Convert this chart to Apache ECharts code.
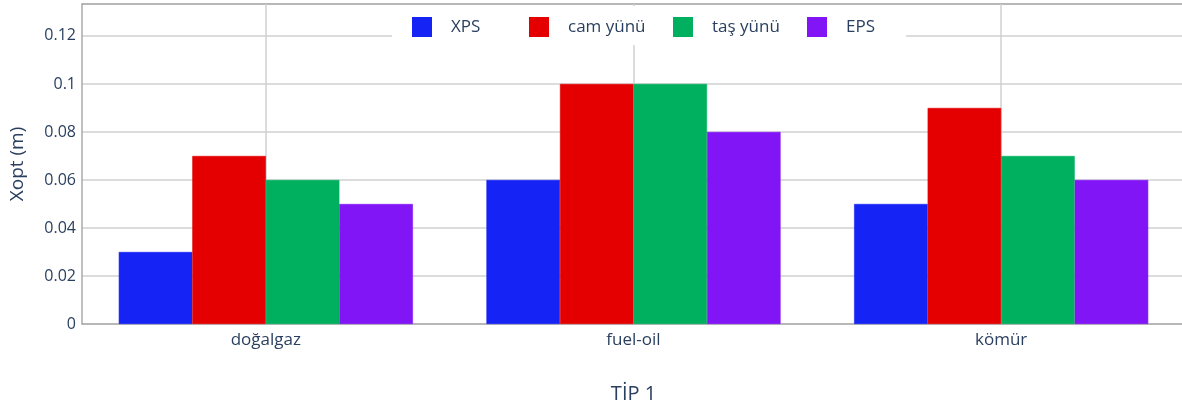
<!DOCTYPE html>
<html><head><meta charset="utf-8">
<script src="https://cdn.jsdelivr.net/npm/echarts@6/dist/echarts.min.js"></script>
<style>html,body{margin:0;padding:0;background:#fff;overflow:hidden}#c{width:1182px;height:409px}</style>
</head><body><div id="c"></div>
<script>
const categories = ['doğalgaz', 'fuel-oil', 'kömür'];
const seriesNames = ['XPS', 'cam yünü', 'taş yünü', 'EPS'];
const xps = [0.03, 0.06, 0.05];
const camYunu = [0.07, 0.10, 0.09];
const tasYunu = [0.06, 0.10, 0.07];
const eps = [0.05, 0.08, 0.06];
const colors = ['#1623f5', '#e40000', '#00b05e', '#8115f5'];
const legendLeft = [412, 529, 673, 807];
const values = [xps, camYunu, tasYunu, eps];
const FONT = '"Open Sans", "Noto Sans", sans-serif';
const TXT = '#2a3f5f';

const chart = echarts.init(document.getElementById('c'));
const series = seriesNames.map((n, i) => ({
  name: n, type: 'bar', data: values[i], barGap: 0, barCategoryGap: '20%',
  itemStyle: { color: colors[i], borderColor: colors[i], borderWidth: 0.6 }, z: 3
}));
series.push({
  name: 'grid-v', type: 'line', data: [], z: 1, silent: true,
  markLine: {
    silent: true, symbol: 'none', label: { show: false }, z: 1, zlevel: 0,
    lineStyle: { color: '#d0d0d0', width: 1.5, type: 'solid' },
    data: categories.map(c => ({ xAxis: c }))
  }
});
chart.setOption({
  animation: false,
  textStyle: { fontFamily: FONT },
  grid: { left: 82, top: 4, width: 1103, height: 320, show: false, outerBoundsMode: 'none', containLabel: false },
  xAxis: [{
    type: 'category', data: categories,
    axisLine: { lineStyle: { color: '#aaa', width: 1.5 } },
    axisTick: { show: false },
    axisLabel: { color: TXT, fontSize: 17, margin: 8, fontFamily: FONT },
    name: 'TİP 1', nameLocation: 'middle', nameGap: 60,
    nameTextStyle: { color: TXT, fontSize: 20, fontFamily: FONT }
  }, {
    type: 'category', data: categories, position: 'top',
    axisLine: { show: true, lineStyle: { color: '#aaa', width: 1.5 } },
    axisTick: { show: false }, axisLabel: { show: false }, splitLine: { show: false }
  }],
  yAxis: {
    type: 'value', min: 0, max: 0.1333, interval: 0.02,
    axisLine: { show: true, lineStyle: { color: '#aaa', width: 1.5 } },
    axisTick: { show: false },
    axisLabel: { color: TXT, fontSize: 16, margin: 6, showMaxLabel: false, fontFamily: FONT },
    splitLine: { lineStyle: { color: '#d0d0d0', width: 1.5 } },
    name: 'Xopt (m)', nameLocation: 'middle', nameRotate: 90, nameGap: 55,
    nameTextStyle: { color: TXT, fontSize: 19, fontFamily: FONT }
  },
  graphic: [{ type: 'rect', z: 100, shape: { x: 392, y: 6, width: 514, height: 39 }, style: { fill: '#fff' } }],
  legend: seriesNames.map((n, i) => ({
    data: [n], left: legendLeft[i], top: 17, z: 110,
    itemWidth: 18, itemHeight: 18, icon: 'rect', padding: 0,
    textStyle: { color: TXT, fontSize: 17, fontFamily: FONT, padding: [0, 0, 0, 15] }
  })),
  series: series
});
</script></body></html>
